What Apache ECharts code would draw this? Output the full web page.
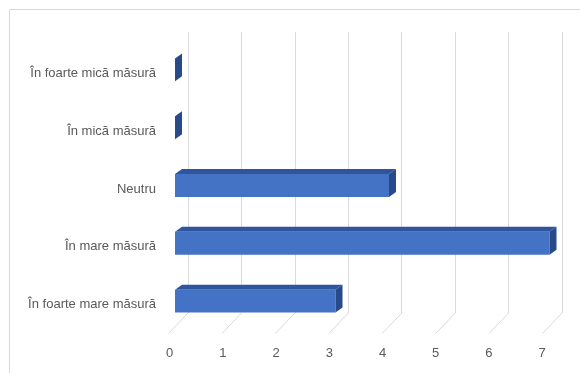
<!DOCTYPE html>
<html>
<head>
<meta charset="utf-8">
<script src="https://cdn.jsdelivr.net/npm/echarts@6/dist/echarts.min.js"></script>
<style>
  html, body { margin: 0; padding: 0; background: #ffffff; }
  #chart { width: 580px; height: 373px; }
</style>
</head>
<body>
<div id="chart"></div>
<script>
// Answer categories, top to bottom
const categories = [
  'În foarte mică măsură',
  'În mică măsură',
  'Neutru',
  'În mare măsură',
  'În foarte mare măsură'
];
// Number of responses per category
const responses = [0, 0, 4, 7, 3];
// Value axis ticks
const xTicks = [0, 1, 2, 3, 4, 5, 6, 7];

const FONT = '"Liberation Sans", Arial, sans-serif';
const TEXT = '#595959';
const GRID_LINE = '#d9d9d9';
const FRONT = '#4472C4';
const TOP = '#2F559C';
const SIDE = '#284A88';
// pixel depth of each box
const DEPTH_X = 7, DEPTH_Y = 5;

const chart = echarts.init(document.getElementById('chart'), null, { renderer: 'canvas' });

chart.setOption({
  backgroundColor: '#ffffff',
  animation: false,
  graphic: [{
    type: 'rect',
    shape: { x: 9.5, y: 9.5, width: 620, height: 420 },
    style: { fill: 'none', stroke: GRID_LINE, lineWidth: 1 },
    silent: true,
    z: -10
  }],
  grid: [
    // back wall with the vertical gridlines
    { left: 188, right: 18, top: 32, bottom: 60 },
    // front plane where the boxes stand
    { left: 175, right: 30.5, top: 41, bottom: 43 },
    // floor front edge carrying the tick labels
    { left: 169.7, right: 37.9, top: 300, bottom: 39 }
  ],
  xAxis: [
    {
      gridIndex: 0, type: 'value', min: 0, max: 7, interval: 1,
      axisLine: { show: false }, axisTick: { show: false }, axisLabel: { show: false },
      splitLine: { show: true, lineStyle: { color: GRID_LINE, width: 1 } }
    },
    {
      gridIndex: 1, type: 'value', min: 0, max: 7, interval: 1, show: false
    },
    {
      gridIndex: 2, type: 'value', min: 0, max: 7, interval: 1,
      axisLine: { show: false }, axisTick: { show: false }, splitLine: { show: false },
      axisLabel: {
        color: TEXT, fontFamily: FONT, fontSize: 13, margin: 13,
        formatter: v => xTicks.includes(v) ? String(v) : ''
      }
    }
  ],
  yAxis: [
    { gridIndex: 0, type: 'value', min: 0, max: 1, show: false },
    {
      gridIndex: 1, type: 'category', data: categories, inverse: true,
      axisLine: { show: false }, axisTick: { show: false }, splitLine: { show: false },
      axisLabel: {
        margin: 19,
        formatter: v => '{c|' + v + '}',
        rich: { c: { color: TEXT, fontFamily: FONT, fontSize: 13, padding: [7, 0, 0, 0] } }
      }
    },
    { gridIndex: 2, type: 'value', min: 0, max: 1, show: false }
  ],
  series: [
    {
      // floor lines running from the back wall to the front edge
      type: 'custom',
      xAxisIndex: 0, yAxisIndex: 0,
      data: xTicks.map(v => [v, 0]),
      silent: true,
      renderItem: function (params, api) {
        const p = api.coord([api.value(0), 0]);
        return {
          type: 'line',
          shape: { x1: p[0], y1: p[1], x2: p[0] - 19.5, y2: p[1] + 20.5 },
          style: { stroke: GRID_LINE, lineWidth: 1 }
        };
      },
      z: 1
    },
    {
      // 3D boxes: front face, top face and right side
      type: 'custom',
      xAxisIndex: 1, yAxisIndex: 1,
      data: responses.map((v, i) => [v, i]),
      renderItem: function (params, api) {
        const v = api.value(0);
        const c = api.value(1);
        const p0 = api.coord([0, c]);
        const p1 = api.coord([v, c]);
        const h = api.size([0, 1])[1] * 0.397;
        const top = p0[1] - h / 2;
        const bottom = p0[1] + h / 2;
        const x0 = p0[0], x1 = p1[0];
        const children = [];
        if (x1 - x0 > 0.5) {
          children.push({
            type: 'polygon',
            shape: { points: [[x0, top], [x1, top], [x1 + DEPTH_X, top - DEPTH_Y], [x0 + DEPTH_X, top - DEPTH_Y]] },
            style: { fill: TOP }
          });
          children.push({
            type: 'rect',
            shape: { x: x0, y: top, width: x1 - x0, height: h },
            style: { fill: FRONT }
          });
        }
        children.push({
          type: 'polygon',
          shape: { points: [[x1, top], [x1 + DEPTH_X, top - DEPTH_Y], [x1 + DEPTH_X, bottom - DEPTH_Y], [x1, bottom]] },
          style: { fill: SIDE }
        });
        return { type: 'group', children: children };
      },
      z: 5
    }
  ]
});
</script>
</body>
</html>
